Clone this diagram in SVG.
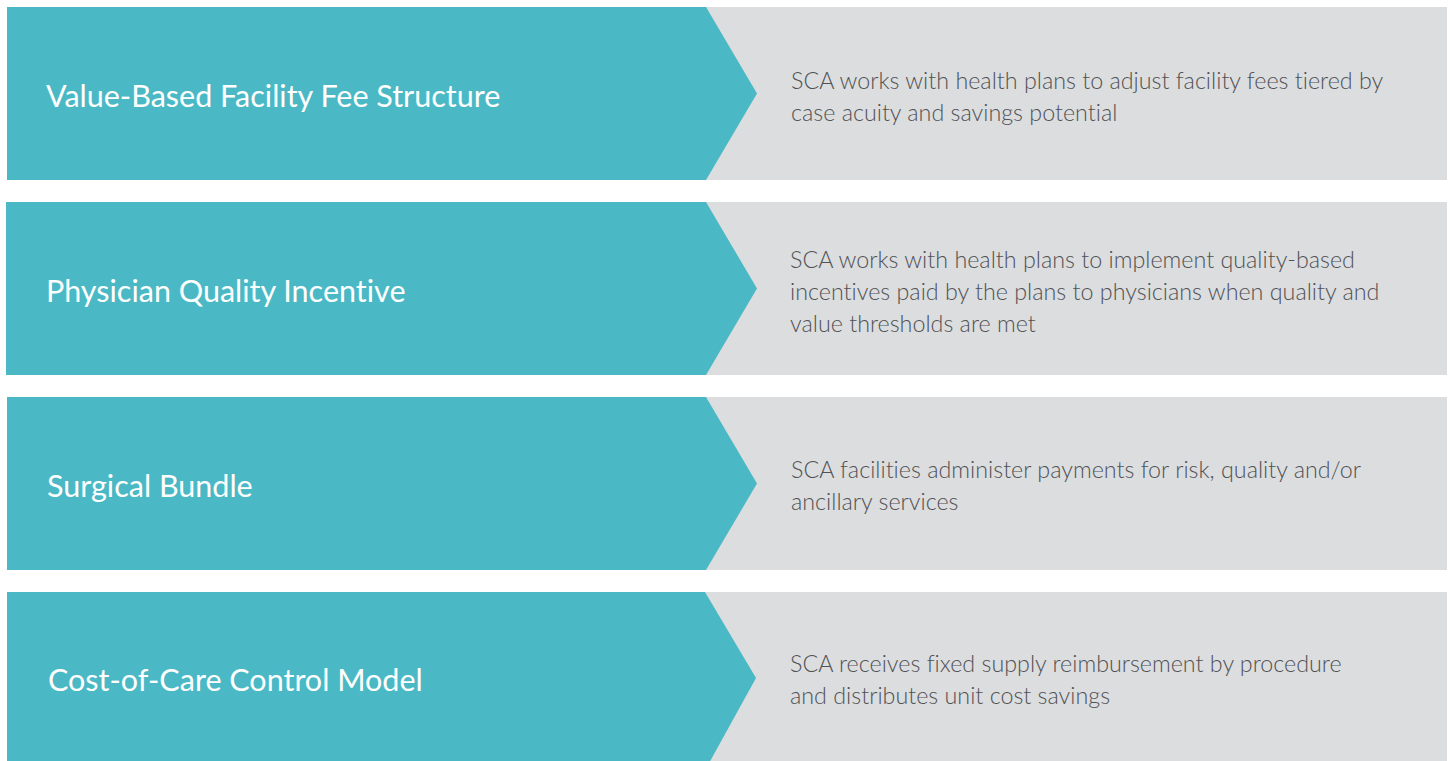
<svg xmlns="http://www.w3.org/2000/svg" width="1450" height="761" viewBox="0 0 1450 761">
<style>
.bg{fill:#dcdddf}
.ch{fill:#4ab9c5}
.t{font-family:Lato,"Liberation Sans",sans-serif;font-size:30.5px;fill:#ffffff;font-variant-ligatures:none}
.d{font-family:Lato,"Liberation Sans",sans-serif;font-size:23.3px;fill:#505255;font-weight:300;font-variant-ligatures:none}
</style>
<rect width="1450" height="761" fill="#ffffff"/>
<g id="row1">
<rect class="bg" x="7" y="7" width="1440" height="173"/>
<polygon class="ch" points="7,7 706,7 757,93.5 706,180 7,180"/>
<text class="t" x="46" y="107">Value-Based Facility Fee Structure</text>
<text class="d" x="791" y="89">SCA works with health plans to adjust facility fees tiered by</text>
<text class="d" x="791" y="121">case acuity and savings potential</text>
</g>
<g id="row2">
<rect class="bg" x="6" y="202" width="1441" height="173"/>
<polygon class="ch" points="6,202 706,202 757,288.5 706,375 6,375"/>
<text class="t" x="46" y="302">Physician Quality Incentive</text>
<text class="d" x="790" y="268">SCA works with health plans to implement quality-based</text>
<text class="d" x="790" y="300">incentives paid by the plans to physicians when quality and</text>
<text class="d" x="790" y="332">value thresholds are met</text>
</g>
<g id="row3">
<rect class="bg" x="7" y="397" width="1440" height="173"/>
<polygon class="ch" points="7,397 706,397 757,483.5 706,570 7,570"/>
<text class="t" x="47" y="497">Surgical Bundle</text>
<text class="d" x="791" y="478">SCA facilities administer payments for risk, quality and/or</text>
<text class="d" x="791" y="510">ancillary services</text>
</g>
<g id="row4">
<rect class="bg" x="7" y="592" width="1440" height="173"/>
<polygon class="ch" points="7,592 705,592 756,678 708,765 7,765"/>
<text class="t" x="48" y="691">Cost-of-Care Control Model</text>
<text class="d" x="790" y="672">SCA receives fixed supply reimbursement by procedure</text>
<text class="d" x="790" y="704">and distributes unit cost savings</text>
</g>
</svg>
